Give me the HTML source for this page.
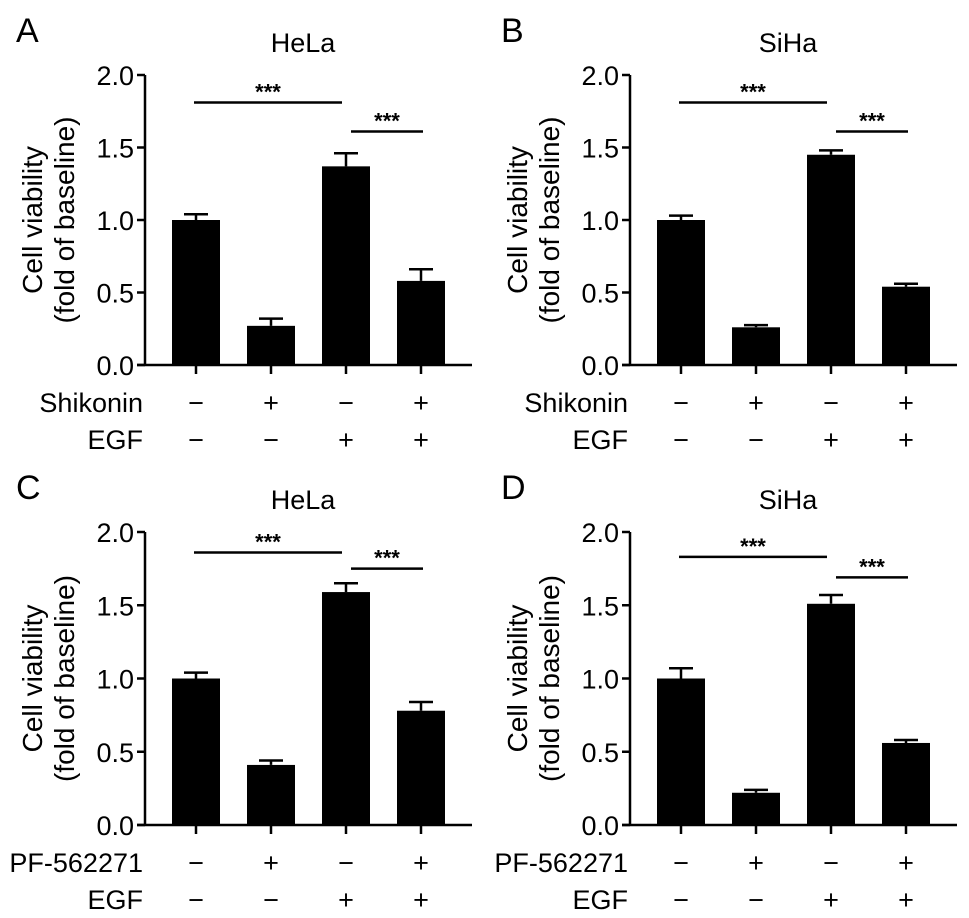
<!DOCTYPE html>
<html><head><meta charset="utf-8"><style>
body{margin:0;background:#fff}
svg{display:block;font-family:"Liberation Sans",Arial,sans-serif}
</style></head><body>
<svg id="fig" width="969" height="918" viewBox="0 0 969 918"></svg>
<script>
const categories=["1","2","3","4"];
const rowTop=["−","+","−","+"];
const rowEgf=["−","−","+","+"];
const tickLabels=["0.0","0.5","1.0","1.5","2.0"];
const tickValues=[0,0.5,1,1.5,2];
const valsA=[1.0,0.27,1.37,0.58], errA=[0.04,0.05,0.09,0.08];
const valsB=[1.0,0.26,1.45,0.54], errB=[0.03,0.015,0.03,0.02];
const valsC=[1.0,0.41,1.59,0.78], errC=[0.04,0.03,0.06,0.06];
const valsD=[1.0,0.22,1.51,0.56], errD=[0.07,0.02,0.06,0.02];
const sigA=[1.81,1.61], sigB=[1.81,1.61], sigC=[1.86,1.75], sigD=[1.83,1.69];
const panels=[
 {id:"a",letter:"A",title:"HeLa",treat:"Shikonin",vals:valsA,err:errA,sig:sigA,ax:145,y0:365,yt:75},
 {id:"b",letter:"B",title:"SiHa",treat:"Shikonin",vals:valsB,err:errB,sig:sigB,ax:630,y0:365,yt:75},
 {id:"c",letter:"C",title:"HeLa",treat:"PF-562271",vals:valsC,err:errC,sig:sigC,ax:145,y0:825,yt:532},
 {id:"d",letter:"D",title:"SiHa",treat:"PF-562271",vals:valsD,err:errD,sig:sigD,ax:630,y0:825,yt:532}
];
const NS="http://www.w3.org/2000/svg";
const svg=document.getElementById("fig");
function mk(tag,attrs,parent,text){const e=document.createElementNS(NS,tag);for(const k in attrs)e.setAttribute(k,attrs[k]);if(text!==undefined)e.textContent=text;parent.appendChild(e);return e;}
panels.forEach(p=>{
 const g=mk("g",{},svg);
 
 
 const y=v=>p.y0-(p.y0-p.yt)*v/2;
 const x=i=>p.ax+51+i*75;
 const t1=mk("text",{x:p.ax-129,y:p.yt-33,"font-size":34},g,p.letter);
 
 
 const t2=mk("text",{x:p.ax+158,y:p.yt-23,"font-size":27,"text-anchor":"middle"},g,p.title);
 
 
 const cy=(p.y0+p.yt)/2;
 const yt=mk("text",{transform:`translate(${p.ax-103},${cy}) rotate(-90)`,"font-size":28,"text-anchor":"middle"},g);
 
 
 mk("tspan",{x:0,dy:0},yt,"Cell viability");
 mk("tspan",{x:0,dy:32},yt,"(fold of baseline)");
 const ya=mk("line",{x1:p.ax,y1:p.yt,x2:p.ax,y2:p.y0,stroke:"#000","stroke-width":2.5},g);
 
 
 const xa=mk("line",{x1:p.ax-8,y1:p.y0,x2:p.ax+327,y2:p.y0,stroke:"#000","stroke-width":2.5},g);
 
 
 tickValues.forEach((v,i)=>{
  mk("line",{x1:p.ax-8,y1:y(v),x2:p.ax,y2:y(v),stroke:"#000","stroke-width":2.5},g);
  const tl=mk("text",{x:p.ax-11,y:y(v)+10,"font-size":27,"text-anchor":"end"},g,tickLabels[i]);
  
  
 });
 categories.forEach((c,i)=>{
  const b=mk("rect",{x:x(i)-24,y:y(p.vals[i]),width:48,height:p.y0-y(p.vals[i]),fill:"#000"},g);
  
  
  const top=y(p.vals[i]+p.err[i]);
  const e=mk("path",{d:`M${x(i)},${y(p.vals[i])}V${top}M${x(i)-12},${top}H${x(i)+12}`,stroke:"#000","stroke-width":2.5,fill:"none"},g);
  
  
  mk("line",{x1:x(i),y1:p.y0,x2:x(i),y2:p.y0+9,stroke:"#000","stroke-width":2.5},g);
  const r1=mk("text",{x:x(i),y:p.y0+47,"font-size":27,"text-anchor":"middle"},g,rowTop[i]);
  
  
  const r2=mk("text",{x:x(i),y:p.y0+84,"font-size":27,"text-anchor":"middle"},g,rowEgf[i]);
  
  
 });
 const l1=mk("text",{x:p.ax-2,y:p.y0+47,"font-size":27,"text-anchor":"end"},g,p.treat);
 
 
 const l2=mk("text",{x:p.ax-2,y:p.y0+84,"font-size":27,"text-anchor":"end"},g,"EGF");
 
 
 [[0,2,p.sig[0]],[2,3,p.sig[1]]].forEach(([a,b,v])=>{
  const xa1=x(a)-2, xb=x(b)-(a===2?-2:4), xs=a===2?x(2)+5:xa1;
  const s=mk("line",{x1:xs,y1:y(v),x2:xb,y2:y(v),stroke:"#000","stroke-width":2.5},g);
  
  
  const st=mk("text",{x:(xs+xb)/2,y:y(v)-3,"font-size":22,"font-weight":"bold","text-anchor":"middle"},g,"***");
  
  
 });
});
</script>
</body></html>
